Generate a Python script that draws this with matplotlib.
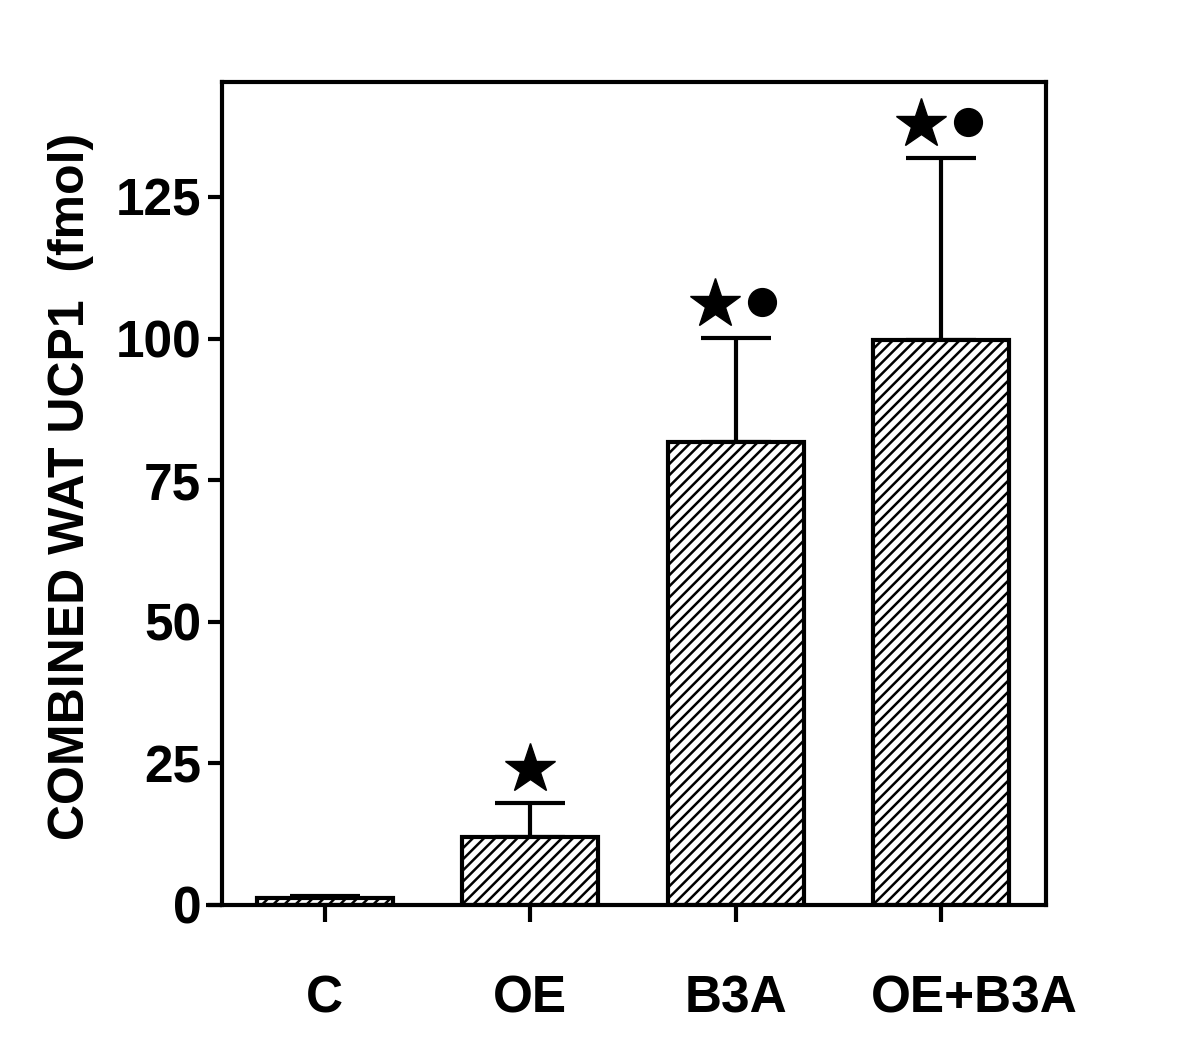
import matplotlib.pyplot as plt
import matplotlib as mpl
import matplotlib.transforms as mtransforms
import numpy as np

# data
groups = ["C", "OE", "B3A", "OE+B3A"]
means = [1.2, 12.0, 81.7, 99.8]
sem = [0.3, 6.0, 18.4, 32.1]
stars = [False, True, True, True]
dots = [False, False, True, True]

plt.rcParams['font.family'] = ['Liberation Sans', 'DejaVu Sans']
plt.rcParams['font.weight'] = 'bold'
mpl.rcParams['hatch.linewidth'] = 1.8

fig = plt.figure(figsize=(12, 10.54), dpi=100)
ax = fig.add_axes([0.185, 0.1414, 0.6867, 0.7808])

x = np.arange(len(groups))
ax.bar(x, means, width=0.66, color='white', edgecolor='black', linewidth=3,
       hatch='///', zorder=2)
ax.errorbar(x, means, yerr=[np.zeros(len(sem)), sem], fmt='none', ecolor='black',
            elinewidth=3, capsize=25, capthick=3, zorder=1)

# significance marks above the error bars
for i in range(len(groups)):
    top = means[i] + sem[i] + 6
    if stars[i] and dots[i]:
        ax.plot(x[i] - 0.1, top, marker='*', markersize=38, color='black', zorder=3)
        ax.plot(x[i] + 0.13, top + 0.4, marker='o', markersize=20, color='black', zorder=3)
    elif stars[i]:
        ax.plot(x[i], top, marker='*', markersize=38, color='black', zorder=3)

ax.set_xlim(-0.5, 3.51)
ax.set_ylim(0, 145.3)
ax.set_yticks([0, 25, 50, 75, 100, 125])
ax.set_xticks(x)
ax.set_xticklabels(groups)

for s in ax.spines.values():
    s.set_linewidth(3)
# bottom line runs a little past the y axis, like the original
ax.plot([-0.02, 0], [0, 0], transform=ax.transAxes, color='black', lw=3,
        clip_on=False, solid_capstyle='butt')
ax.tick_params(axis='both', labelsize=37, width=3, length=10, direction='out')
ax.tick_params(axis='x', length=12, pad=38)
ax.tick_params(axis='y', pad=5)

# last label sits a bit right of its tick in the original
lab = ax.get_xticklabels()[-1]
lab.set_transform(lab.get_transform() + mtransforms.ScaledTranslation(0.33, 0, fig.dpi_scale_trans))

ax.set_ylabel("COMBINED WAT UCP1  (fmol)", fontsize=36, fontweight='bold')
ax.yaxis.set_label_coords(-0.155, 0.508)

fig.savefig("out.png", dpi=100)
